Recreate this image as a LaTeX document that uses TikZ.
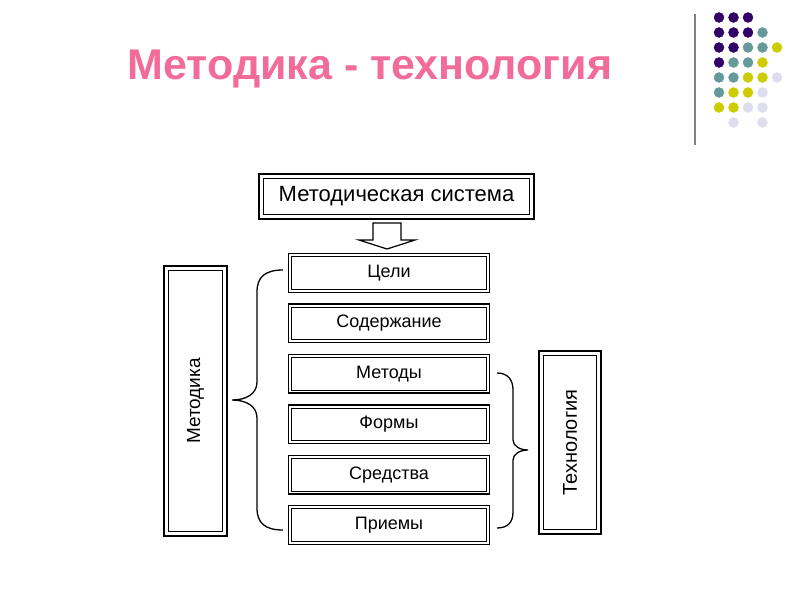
\documentclass[tikz,border=0pt]{standalone}
\usepackage{fontspec}
\setmainfont{Liberation Sans}
\usetikzlibrary{positioning}

\definecolor{titlepink}{RGB}{242,108,152}
\definecolor{dotpurple}{RGB}{51,0,102}
\definecolor{dotteal}{RGB}{102,153,153}
\definecolor{dotyellow}{RGB}{204,204,0}
\definecolor{dotlilac}{RGB}{221,221,238}

\tikzset{
  part/.style={draw, line width=1.4pt, outer sep=0pt,
    minimum width=200.6pt, minimum height=38.6pt,
    font=\fontsize{18}{21}\selectfont},
  frame/.style={draw, line width=2.4pt, outer sep=0pt,
    font=\fontsize{19}{22}\selectfont},
  innerline/.style={line width=0.7pt},
  curly/.style={line width=1.3pt},
}

\begin{document}
\begin{tikzpicture}[x=1pt, y=-1pt]
    \useasboundingbox (0,0) rectangle (800,600);
    % Title and corner ornament
    \node (title) [text=titlepink, font=\fontsize{43}{50}\selectfont\bfseries] at (370,69) {Методика - технология};
    \draw [gray, line width=2pt] (695,14) -- (695,145);
    \foreach \c/\r in {0/0,1/0,2/0,0/1,1/1,2/1,0/2,1/2,0/3}
      \filldraw [dotpurple] (719+14.5*\c,17.5+15*\r) circle (5);
    \foreach \c/\r in {3/1,2/2,3/2,1/3,2/3,0/4,1/4,0/5}
      \filldraw [dotteal] (719+14.5*\c,17.5+15*\r) circle (5);
    \foreach \c/\r in {4/2,3/3,2/4,3/4,1/5,2/5,0/6,1/6}
      \filldraw [dotyellow] (719+14.5*\c,17.5+15*\r) circle (5);
    \foreach \c/\r in {4/4,3/5,2/6,3/6,1/7,3/7}
      \filldraw [dotlilac] (719+14.5*\c,17.5+15*\r) circle (5);

    % Top box and block arrow
    \node (system) [frame, minimum width=274.6pt, minimum height=44.6pt,
      font=\fontsize{22}{25}\selectfont] at (396.5,196.5) {Методическая система};
    \draw [innerline] ([shift={(4,4)}]system.north west) rectangle ([shift={(-4,-4)}]system.south east);
    \draw [line width=1.2pt] (373,223) -- (401,223) -- (401,240) -- (415,240)
      -- (387,249) -- (359,240) -- (373,240) -- cycle;

    % Column of parts
    \node (goals) [part] at (389,273) {Цели};
    \node (content) [part, below=11.8pt of goals] {Содержание};
    \node (methods) [part, below=11.8pt of content] {Методы};
    \node (forms) [part, below=11.8pt of methods] {Формы};
    \node (means) [part, below=11.8pt of forms] {Средства};
    \node (techniques) [part, below=11.8pt of means] {Приемы};
    \foreach \n in {goals,content,methods,forms,means,techniques}
      \draw [innerline] ([shift={(3,3)}]\n.north west) rectangle ([shift={(-3,-3)}]\n.south east);

    % Side frames
    \node (methodics) [frame, minimum width=62.6pt, minimum height=269.6pt] at (195.5,401) {};
    \node [rotate=90, font=\fontsize{19}{22}\selectfont] at (methodics) {Методика};
    \draw [innerline] ([shift={(4,4)}]methodics.north west) rectangle ([shift={(-4,-4)}]methodics.south east);
    \node (technology) [frame, minimum width=61.6pt, minimum height=182.6pt] at (570,442.5) {};
    \node [rotate=90, font=\fontsize{20}{23}\selectfont] at (technology) {Технология};
    \draw [innerline] ([shift={(4,4)}]technology.north west) rectangle ([shift={(-4,-4)}]technology.south east);

    % Braces
    \coordinate (l_1) at (283,270);
    \coordinate (l_2) at (232,400);
    \coordinate (l_3) at (283,530);
    \draw [curly] (l_1) .. controls (265,270) and (257,277) .. (257,292)
      -- (257,382) .. controls (257,394) and (246,400) .. (l_2)
      .. controls (246,400) and (257,406) .. (257,418)
      -- (257,508) .. controls (257,523) and (265,530) .. (l_3);
    \coordinate (r_1) at (497,373);
    \coordinate (r_2) at (528,450);
    \coordinate (r_3) at (497,528);
    \draw [curly] (r_1) .. controls (508,373) and (513,380) .. (513,390)
      -- (513,440) .. controls (513,446) and (520,450) .. (r_2)
      .. controls (520,450) and (513,454) .. (513,460)
      -- (513,512) .. controls (513,522) and (508,528) .. (r_3);
  \end{tikzpicture}
\end{document}
